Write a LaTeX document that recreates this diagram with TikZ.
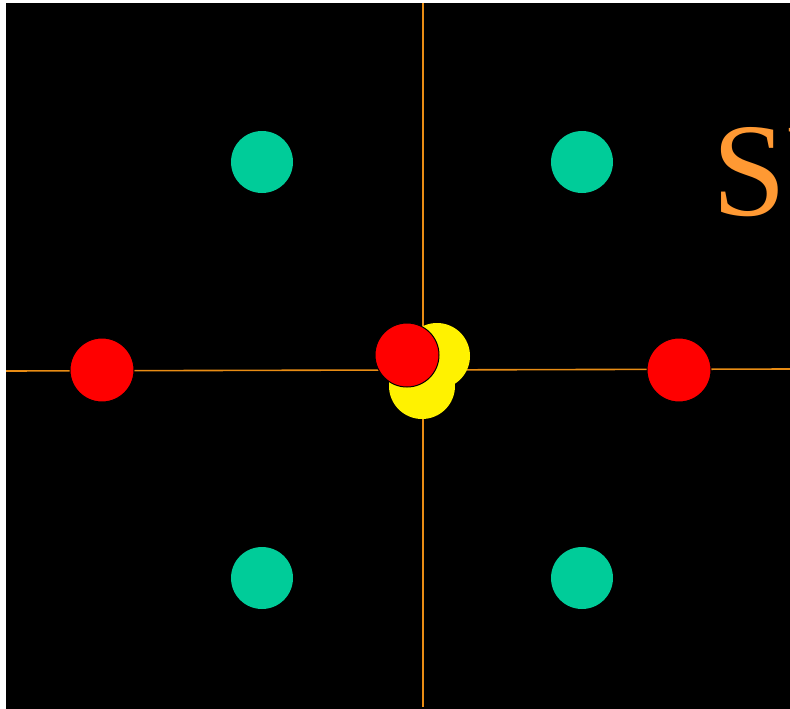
\documentclass[tikz,border=0pt]{standalone}
\usepackage{fontspec}
\setmainfont{Liberation Serif}
\usepackage{xcolor}
\usetikzlibrary{positioning,calc}

\definecolor{axisorange}{RGB}{232,140,20}
\definecolor{textorange}{RGB}{255,153,51}
\definecolor{teal}{RGB}{0,204,153}

\begin{document}
\begin{tikzpicture}[
    x=1pt, y=-1pt,
    dot/.style={circle, draw=black, line width=1pt, inner sep=0pt},
    green dot/.style={dot, fill=teal, draw=none, minimum size=62pt},
    red dot/.style={dot, fill=red, minimum size=64pt},
    yellow dot/.style={dot, fill=yellow, draw=none, minimum size=66pt},
    axis/.style={draw=axisorange, line width=1.6pt}
]
    \useasboundingbox (0,0) rectangle (790,709);
    \fill[black] (6,3) rectangle (790,709);
    \clip (6,3) rectangle (790,709);

    % Axes
    \coordinate (top) at (423,3);
    \coordinate (bottom) at (423,707);
    \coordinate (west) at (6,371);
    \coordinate (east) at (790,369);
    \draw[axis] (top) -- (bottom);
    \draw[axis] (west) -- (east);

    % Outer points
    \node[green dot] (g1) at (262,162) {};
    \node[green dot] (g2) at (582,162) {};
    \node[green dot] (g3) at (262,578) {};
    \node[green dot] (g4) at (582,578) {};
    \node[red dot] (r1) at (102,370) {};
    \node[red dot] (r2) at (679,370) {};

    % Centre cluster
    \node[yellow dot] (y1) at (437,356) {};
    \node[yellow dot] (y2) at (422,386) {};
    \node[red dot] (r0) at (407,355) {};

    \node[anchor=base west, inner sep=0pt, text=textorange,
          font=\fontsize{133}{133}\selectfont] (title) at (712,215) {SU};
\end{tikzpicture}
\end{document}
